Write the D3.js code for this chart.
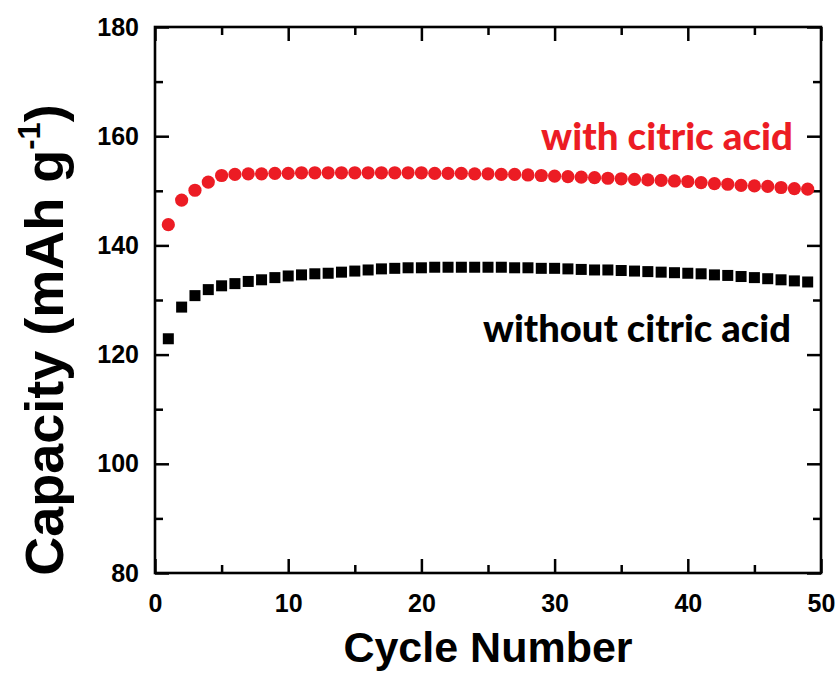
<!DOCTYPE html>
<html>
<head>
<meta charset="utf-8">
<script src="https://cdn.jsdelivr.net/npm/d3@7"></script>
<style>
  html, body { margin: 0; padding: 0; background: #fff; }
  svg { display: block; }
</style>
</head>
<body>
<div id="chart"></div>
<script>
// Cycling capacity of two cathode samples (mAh g^-1 per cycle)
const cycles = d3.range(1, 50);
const withCitric = [
  143.8, 148.3, 150.1, 151.6, 152.8, 153.0, 153.1, 153.1, 153.2, 153.2,
  153.3, 153.3, 153.3, 153.3, 153.3, 153.3, 153.3, 153.3, 153.3, 153.3,
  153.2, 153.2, 153.2, 153.1, 153.1, 153.0, 153.0, 152.9, 152.8, 152.7,
  152.6, 152.5, 152.4, 152.3, 152.2, 152.1, 152.0, 151.9, 151.8, 151.7,
  151.5, 151.3, 151.2, 151.0, 150.9, 150.8, 150.6, 150.4, 150.3
];
const withoutCitric = [
  122.9, 128.7, 130.8, 131.9, 132.6, 133.0, 133.4, 133.7, 134.1, 134.4,
  134.6, 134.8, 134.9, 135.1, 135.3, 135.5, 135.7, 135.8, 135.9, 135.9,
  136.0, 136.0, 136.0, 136.0, 136.0, 136.0, 135.9, 135.9, 135.8, 135.8,
  135.7, 135.6, 135.5, 135.5, 135.4, 135.3, 135.2, 135.1, 135.0, 134.9,
  134.8, 134.6, 134.5, 134.3, 134.1, 133.9, 133.7, 133.5, 133.3
];
const xTicks = [0, 10, 20, 30, 40, 50];
const xMinorTicks = [5, 15, 25, 35, 45];
const yTicks = [80, 100, 120, 140, 160, 180];
const yMinorTicks = [90, 110, 130, 150, 170];
const seriesLabels = ["with citric acid", "without citric acid"];

const W = 838, H = 675;
const m = { left: 155, right: 17, top: 27, bottom: 102 };
const iw = W - m.left - m.right, ih = H - m.top - m.bottom;
const RED = "#ec1c24";

const svg = d3.select("#chart").append("svg").attr("width", W).attr("height", H);
const g = svg.append("g").attr("transform", `translate(${m.left},${m.top})`);

const x = d3.scaleLinear().domain([0, 50]).range([0, iw]);
const y = d3.scaleLinear().domain([80, 180]).range([ih, 0]);

const tickFont = "bold 25px 'Liberation Sans', Arial, sans-serif";

function styleAxis(sel) {
  sel.select(".domain").remove();
  sel.selectAll(".tick line").attr("stroke", "#000").attr("stroke-width", 2.5);
  sel.selectAll("text").style("font", tickFont).attr("fill", "#000");
}

// inward-pointing major and minor ticks on all four sides
g.append("g").attr("transform", `translate(0,${ih})`)
  .call(d3.axisBottom(x).tickValues(xTicks).tickSize(-14).tickPadding(21).tickFormat(d3.format("d")))
  .call(styleAxis);
g.append("g").attr("transform", `translate(0,${ih})`)
  .call(d3.axisBottom(x).tickValues(xMinorTicks).tickSize(-8).tickFormat(""))
  .call(styleAxis);
g.append("g")
  .call(d3.axisTop(x).tickValues(xTicks).tickSize(-14).tickFormat(""))
  .call(styleAxis);
g.append("g")
  .call(d3.axisTop(x).tickValues(xMinorTicks).tickSize(-8).tickFormat(""))
  .call(styleAxis);
g.append("g")
  .call(d3.axisLeft(y).tickValues(yTicks).tickSize(-14).tickPadding(16).tickFormat(d3.format("d")))
  .call(styleAxis);
g.append("g")
  .call(d3.axisLeft(y).tickValues(yMinorTicks).tickSize(-8).tickFormat(""))
  .call(styleAxis);
g.append("g").attr("transform", `translate(${iw},0)`)
  .call(d3.axisRight(y).tickValues(yTicks).tickSize(-14).tickFormat(""))
  .call(styleAxis);
g.append("g").attr("transform", `translate(${iw},0)`)
  .call(d3.axisRight(y).tickValues(yMinorTicks).tickSize(-8).tickFormat(""))
  .call(styleAxis);

// plot frame
g.append("rect").attr("width", iw).attr("height", ih)
  .attr("fill", "none").attr("stroke", "#000").attr("stroke-width", 2.6);

// series without citric acid: black squares
const sq = 11;
g.append("g").selectAll("rect").data(cycles).join("rect")
  .attr("x", (c) => x(c) - sq / 2)
  .attr("y", (c, i) => y(withoutCitric[i]) - sq / 2)
  .attr("width", sq).attr("height", sq)
  .attr("fill", "#000");

// series with citric acid: red circles
g.append("g").selectAll("circle").data(cycles).join("circle")
  .attr("cx", (c) => x(c))
  .attr("cy", (c, i) => y(withCitric[i]))
  .attr("r", 6.6)
  .attr("fill", RED);

// in-plot series labels, right-aligned near the right frame
const labelFont = "Lato, 'Open Sans', sans-serif";
function fitLabel(text, xRight, baseline, targetWidth, color) {
  const t = svg.append("text")
    .attr("x", xRight).attr("y", baseline)
    .attr("text-anchor", "end")
    .attr("fill", color)
    .style("font-family", labelFont)
    .style("font-weight", 900)
    .style("font-size", "100px")
    .text(text);
  const w = t.node().getComputedTextLength();
  t.style("font-size", (100 * targetWidth / w).toFixed(2) + "px");
}
fitLabel(seriesLabels[0], 793, 150, 252, RED);
fitLabel(seriesLabels[1], 791, 342, 308, "#000");

// axis titles
svg.append("text")
  .attr("x", m.left + iw / 2).attr("y", 662)
  .attr("text-anchor", "middle")
  .style("font", "bold 43px 'Liberation Sans', Arial, sans-serif")
  .attr("fill", "#000")
  .text("Cycle Number");

const yt = svg.append("text")
  .attr("transform", "translate(63,340) rotate(-90)")
  .attr("text-anchor", "middle")
  .style("font", "bold 54px 'Liberation Sans', Arial, sans-serif")
  .attr("fill", "#000");
yt.append("tspan").text("Capacity (mAh g");
yt.append("tspan").attr("dy", -23).style("font-size", "31px").text("-1");
yt.append("tspan").attr("dy", 23).text(")");
</script>
</body>
</html>
